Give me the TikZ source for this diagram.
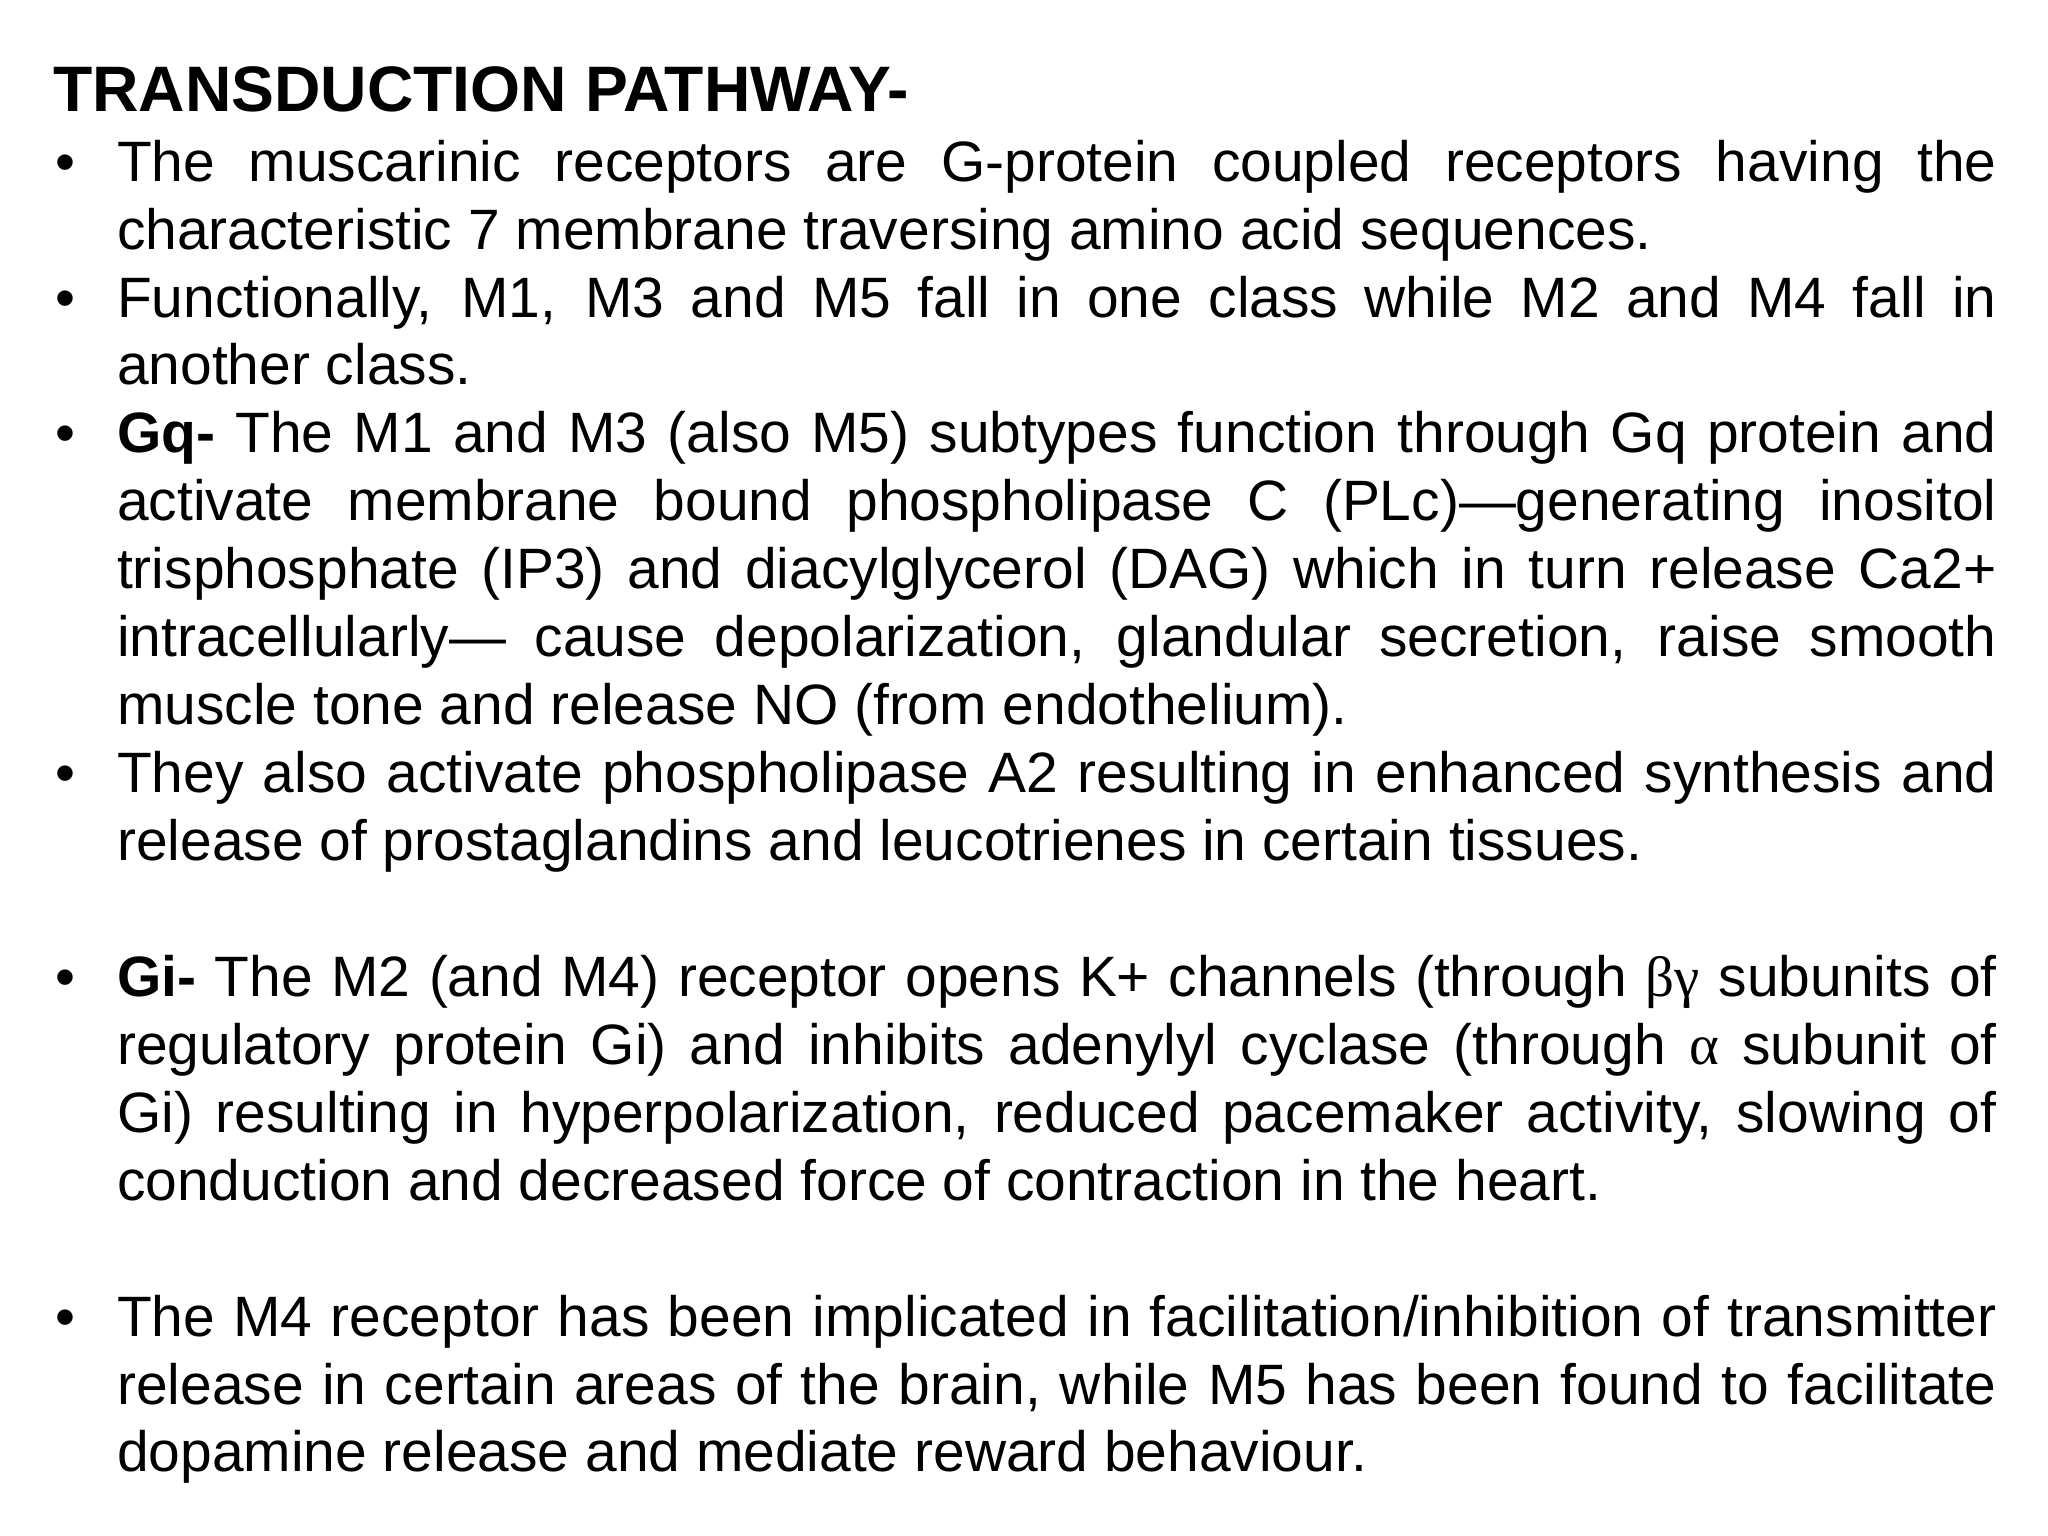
\documentclass[tikz,border=0pt]{standalone}
\usepackage{fontspec}
\setmainfont{Liberation Sans}
\newfontfamily\grk{Liberation Serif}
\begin{document}
\begin{tikzpicture}
\useasboundingbox (0,0) rectangle (15.68,-11.76);
\tikzset{bodytext/.style={anchor=north west, inner sep=0pt, text width=14.88cm, align=justify, font=\fontsize{12.4pt}{14.8pt}\selectfont}}
\newcommand{\bul}{\noindent\hangindent=0.49cm\hangafter=1\makebox[0.49cm][l]{\hspace{0.02cm}•}\rule{0pt}{0.4cm}}
\node[anchor=base west, inner sep=0pt, font=\fontsize{14pt}{16pt}\selectfont\bfseries] (title) at (0.40,-0.85) {TRANSDUCTION PATHWAY-};
\node[bodytext] (body) at (0.40,-0.98) {%
\bul The muscarinic receptors are G-protein coupled receptors having the\linebreak characteristic 7 membrane traversing amino acid sequences.\par
\bul Functionally, M1, M3 and M5 fall in one class while M2 and M4 fall in\linebreak another class.\par
\bul \textbf{Gq-} The M1 and M3 (also M5) subtypes function through Gq protein and\linebreak activate membrane bound phospholipase C (PLc)---generating inositol\linebreak trisphosphate (IP3) and diacylglycerol (DAG) which in turn release Ca2+\linebreak intracellularly--- cause depolarization, glandular secretion, raise smooth\linebreak muscle tone and release NO (from endothelium).\par
\bul They also activate phospholipase A2 resulting in enhanced synthesis and\linebreak release of prostaglandins and leucotrienes in certain tissues.\par
\vspace{0.52cm}
\bul \textbf{Gi-} The M2 (and M4) receptor opens K+ channels (through {\grk βγ} subunits of\linebreak regulatory protein Gi) and inhibits adenylyl cyclase (through {\grk α} subunit of\linebreak Gi) resulting in hyperpolarization, reduced pacemaker activity, slowing of\linebreak conduction and decreased force of contraction in the heart.\par
\vspace{0.52cm}
\bul The M4 receptor has been implicated in facilitation/inhibition of transmitter\linebreak release in certain areas of the brain, while M5 has been found to facilitate\linebreak dopamine release and mediate reward behaviour.\par};
\end{tikzpicture}
\end{document}
